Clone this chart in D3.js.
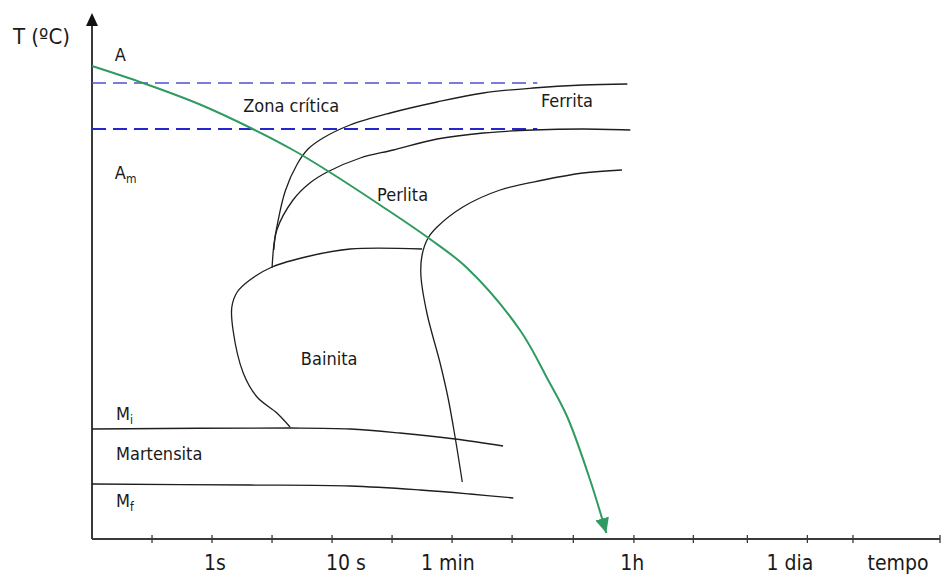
<!DOCTYPE html>
<html>
<head>
<meta charset="utf-8">
<script src="https://cdn.jsdelivr.net/npm/d3@7"></script>
<style>
  body { margin: 0; background: #fff; }
  text { font-family: "DejaVu Sans Condensed", "DejaVu Sans", sans-serif; font-stretch: condensed; fill: #1a1a1a; }
</style>
</head>
<body>
<svg id="chart" width="942" height="577"></svg>
<script>
// Time axis: log steps, one unit per tick. Temperature: relative units (0 = axis).
const tickPositions = [1, 2, 3, 4, 5, 6, 7, 8.02, 9.03, 10.02, 10.92, 11.92, 12.68, 14.13];
const timeLabels = [
  { t: 2.05, label: "1s" },
  { t: 4.23, label: "10 s" },
  { t: 5.93, label: "1 min" },
  { t: 9.0,  label: "1h" },
  { t: 11.63, label: "1 dia" },
  { t: 13.43, label: "tempo" }
];

// Critical zone limits (upper and lower transformation temperatures)
const criticalUpper = [[0, 91.2], [7.42, 91.2]];
const criticalLower = [[0, 82.0], [7.42, 82.0]];

// Continuous cooling path
const coolingCurve = [
  [0, 94.6], [0.85, 91.2], [1.8, 86.9], [2.68, 82.0], [3.35, 77.8], [3.93, 73.6],
  [4.8, 66.8], [5.63, 60.0], [6.25, 54.2], [7.13, 41.8], [7.6, 31.8], [7.92, 24.4],
  [8.3, 11.8], [8.57, 1.2]
];

// Ferrite start
const ferriteStart = [
  [3.0, 54.2], [3.03, 58.8], [3.08, 62.4], [3.22, 69.6], [3.42, 75.0], [3.6, 78.0],
  [3.85, 80.2], [4.3, 82.8], [4.97, 85.2], [5.75, 87.4], [6.52, 89.2], [7.35, 90.2],
  [8.18, 90.8], [8.92, 91.0]
];

// Pearlite start
const pearliteStart = [
  [3.03, 57.8], [3.08, 61.8], [3.35, 67.8], [3.63, 71.2], [3.92, 73.4], [4.47, 76.2],
  [5.02, 77.8], [5.75, 80.0], [6.52, 81.2], [7.35, 81.8], [8.18, 82.0], [8.97, 81.8]
];

// Transformation end
const transformEnd = [
  [6.17, 11.4], [6.05, 20.4], [5.93, 28.4], [5.8, 35.2], [5.58, 45.2], [5.48, 52.8],
  [5.5, 56.8], [5.6, 60.2], [5.75, 62.4], [6.18, 66.4], [6.8, 69.8], [7.52, 71.8],
  [8.18, 73.2], [8.83, 73.8]
];

// Bainite start (nose)
const bainiteStart = [
  [5.5, 58.0], [4.3, 58.0], [3.63, 56.6], [3.0, 54.4], [2.63, 51.8], [2.42, 49.4],
  [2.33, 46.4], [2.35, 41.8], [2.52, 33.2], [2.75, 28.4], [3.08, 25.2], [3.3, 22.4]
];

// Martensite start / finish
const martensiteStart = [[0, 22.0], [3.3, 22.2], [4.3, 22.0], [5.13, 21.2], [6.05, 20.0], [6.85, 18.6]];
const martensiteFinish = [[0, 11.0], [2.63, 10.8], [4.3, 10.6], [5.47, 9.8], [6.3, 9.0], [7.02, 8.2]];

// Region labels
const regionLabels = [
  { t: 2.52, T: 85.4, text: "Zona crítica" },
  { t: 7.48, T: 86.4, text: "Ferrita" },
  { t: 4.75, T: 67.6, text: "Perlita" },
  { t: 3.48, T: 34.8, text: "Bainita" },
  { t: 0.4,  T: 15.8, text: "Martensita" }
];
const phaseLabels = [
  { t: 0.38, T: 95.6, text: "A", sub: "" },
  { t: 0.38, T: 72.0, text: "A", sub: "m" },
  { t: 0.4,  T: 23.8, text: "M", sub: "i" },
  { t: 0.4,  T: 6.4,  text: "M", sub: "f" }
];

const svg = d3.select("#chart");
const x = d3.scaleLinear().domain([0, 14.13]).range([92, 940]);
const y = d3.scaleLinear().domain([0, 100]).range([539, 39]);

const line = d3.line().x(d => x(d[0])).y(d => y(d[1])).curve(d3.curveCatmullRom.alpha(0.5));
const straight = d3.line().x(d => x(d[0])).y(d => y(d[1]));

// Arrowhead for the cooling path
svg.append("defs").append("marker")
  .attr("id", "coolArrow")
  .attr("markerUnits", "userSpaceOnUse")
  .attr("markerWidth", 18).attr("markerHeight", 16)
  .attr("refX", 15).attr("refY", 7)
  .attr("orient", "auto")
  .append("path").attr("d", "M0,0 L15,7 L0,14 Z").attr("fill", "#2f9a61");

// Axes
const axisColor = "#3a3a3a";
svg.append("line")
  .attr("x1", x(0)).attr("x2", x(14.13))
  .attr("y1", y(0)).attr("y2", y(0))
  .attr("stroke", axisColor).attr("stroke-width", 2);
svg.append("line")
  .attr("x1", x(0)).attr("x2", x(0))
  .attr("y1", y(0)).attr("y2", y(102.6))
  .attr("stroke", axisColor).attr("stroke-width", 2);
svg.append("path")
  .attr("d", `M${x(0)},${y(105.2)} L${x(0) - 6},${y(102.6)} L${x(0) + 6},${y(102.6)} Z`)
  .attr("fill", "#111");

svg.append("g").selectAll("line").data(tickPositions).join("line")
  .attr("x1", d => x(d)).attr("x2", d => x(d))
  .attr("y1", y(0) - 4).attr("y2", y(0) + 4)
  .attr("stroke", axisColor).attr("stroke-width", 1.3);

svg.append("g").selectAll("text").data(timeLabels).join("text")
  .attr("x", d => x(d.t)).attr("y", 570)
  .attr("text-anchor", "middle")
  .attr("font-size", 21)
  .text(d => d.label);

svg.append("text").attr("x", 13).attr("y", 44).attr("font-size", 22).text("T (ºC)");

// Critical zone dashed limits
svg.append("path").attr("d", straight(criticalUpper))
  .attr("fill", "none").attr("stroke", "#5050d0").attr("stroke-width", 1.5)
  .attr("stroke-dasharray", "14,7");
svg.append("path").attr("d", straight(criticalLower))
  .attr("fill", "none").attr("stroke", "#2626cf").attr("stroke-width", 2)
  .attr("stroke-dasharray", "14,7");

// Transformation curves
const curves = [ferriteStart, pearliteStart, transformEnd, bainiteStart, martensiteStart, martensiteFinish];
svg.append("g").selectAll("path").data(curves).join("path")
  .attr("d", line)
  .attr("fill", "none")
  .attr("stroke", "#1e1e1e")
  .attr("stroke-width", 1.3);

// Cooling path
svg.append("path").attr("d", line(coolingCurve))
  .attr("fill", "none").attr("stroke", "#2f9a61").attr("stroke-width", 2)
  .attr("marker-end", "url(#coolArrow)");

// Labels
svg.append("g").selectAll("text").data(regionLabels).join("text")
  .attr("x", d => x(d.t)).attr("y", d => y(d.T))
  .attr("font-size", 18)
  .text(d => d.text);

const ph = svg.append("g").selectAll("text").data(phaseLabels).join("text")
  .attr("x", d => x(d.t)).attr("y", d => y(d.T))
  .attr("font-size", 18);
ph.append("tspan").text(d => d.text);
ph.append("tspan").attr("font-size", 12).attr("dy", 4).text(d => d.sub);
</script>
</body>
</html>
